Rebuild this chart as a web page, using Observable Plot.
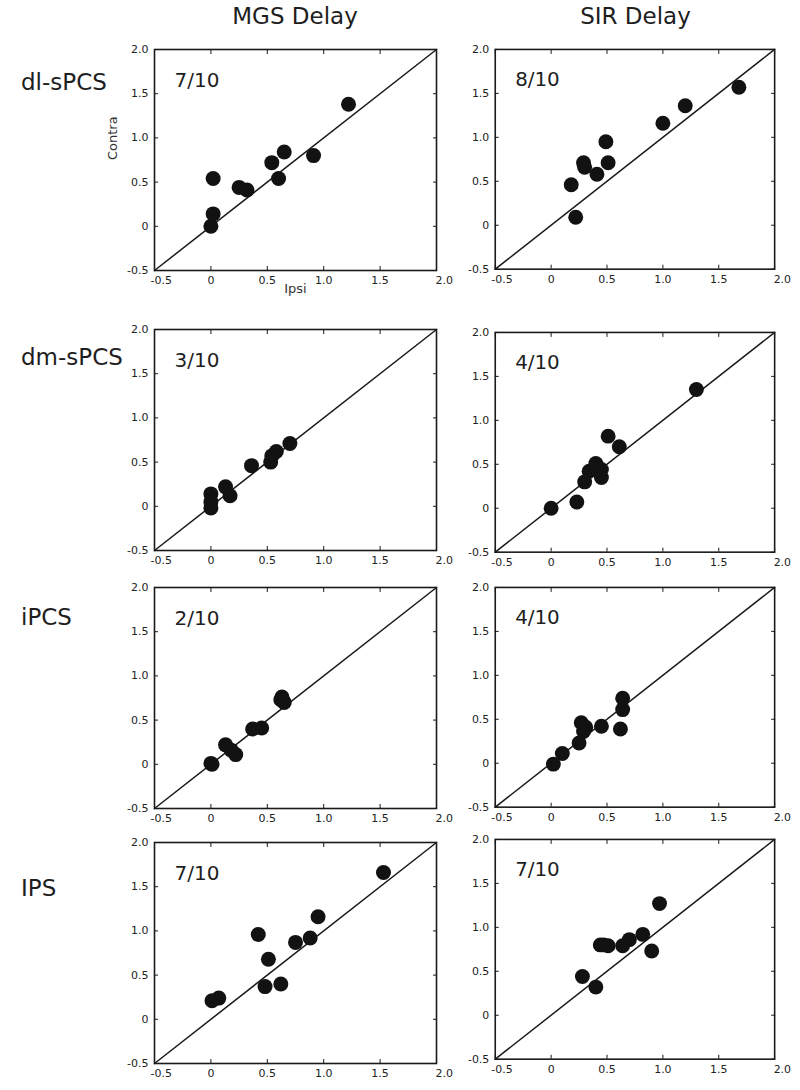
<!DOCTYPE html>
<html><head><meta charset="utf-8">
<script src="https://cdn.jsdelivr.net/npm/d3@7"></script>
<script src="https://cdn.jsdelivr.net/npm/@observablehq/plot@0.6"></script>
<style>
body{margin:0;background:#fff;font-family:"DejaVu Sans",sans-serif;}
#wrap{position:relative;width:800px;height:1090px;overflow:hidden;background:#fff}
.t{position:absolute;color:#1e1e1e;white-space:nowrap;line-height:1;font-family:"DejaVu Sans",sans-serif}
.p{position:absolute}
</style></head><body><div id="wrap"></div>
<script>
const columns = ["MGS Delay", "SIR Delay"];
const regions = ["dl-sPCS", "dm-sPCS", "iPCS", "IPS"];
const counts = [["7/10", "8/10"], ["3/10", "4/10"], ["2/10", "4/10"], ["7/10", "7/10"]];
const ticks = [-0.5, 0, 0.5, 1.0, 1.5, 2.0];
const tickLabels = ["-0.5", "0", "0.5", "1.0", "1.5", "2.0"];
const diagonal = [-0.5, 2.0];
const xAxisTitle = "Ipsi";
const yAxisTitle = "Contra";

// MGS Delay column
const mgsDlIpsi    = [1.22, 0.65, 0.91, 0.54, 0.60, 0.02, 0.25, 0.32, 0.02, 0.00];
const mgsDlContra  = [1.38, 0.84, 0.80, 0.72, 0.54, 0.54, 0.44, 0.41, 0.14, 0.00];
const mgsDmIpsi    = [0.70, 0.58, 0.54, 0.53, 0.36, 0.13, 0.17, 0.00, 0.00, 0.00];
const mgsDmContra  = [0.71, 0.62, 0.57, 0.50, 0.46, 0.22, 0.12, 0.14, 0.05, -0.02];
const mgsIpcsIpsi  = [0.63, 0.65, 0.37, 0.45, 0.13, 0.18, 0.22, 0.00, 0.62, 0.01];
const mgsIpcsContra= [0.76, 0.70, 0.40, 0.41, 0.22, 0.16, 0.11, 0.01, 0.73, 0.00];
const mgsIpsIpsi   = [1.53, 0.95, 0.88, 0.75, 0.42, 0.51, 0.48, 0.62, 0.07, 0.01];
const mgsIpsContra = [1.66, 1.16, 0.92, 0.87, 0.96, 0.68, 0.37, 0.40, 0.24, 0.21];
// SIR Delay column
const sirDlIpsi    = [1.68, 1.20, 1.00, 0.49, 0.29, 0.30, 0.51, 0.41, 0.18, 0.22];
const sirDlContra  = [1.57, 1.36, 1.16, 0.95, 0.71, 0.66, 0.71, 0.58, 0.46, 0.09];
const sirDmIpsi    = [1.30, 0.51, 0.61, 0.40, 0.34, 0.45, 0.45, 0.30, 0.23, 0.00];
const sirDmContra  = [1.35, 0.82, 0.70, 0.51, 0.42, 0.44, 0.35, 0.30, 0.07, 0.00];
const sirIpcsIpsi  = [0.64, 0.64, 0.62, 0.45, 0.27, 0.31, 0.29, 0.25, 0.10, 0.02];
const sirIpcsContra= [0.74, 0.61, 0.39, 0.42, 0.46, 0.41, 0.36, 0.23, 0.11, -0.01];
const sirIpsIpsi   = [0.97, 0.82, 0.70, 0.64, 0.90, 0.51, 0.44, 0.28, 0.40, 0.47];
const sirIpsContra = [1.27, 0.92, 0.86, 0.79, 0.73, 0.79, 0.80, 0.44, 0.32, 0.80];

const panelData = [
  [[mgsDlIpsi, mgsDlContra], [sirDlIpsi, sirDlContra]],
  [[mgsDmIpsi, mgsDmContra], [sirDmIpsi, sirDmContra]],
  [[mgsIpcsIpsi, mgsIpcsContra], [sirIpcsIpsi, sirIpcsContra]],
  [[mgsIpsIpsi, mgsIpsContra], [sirIpsIpsi, sirIpsContra]]
];

// layout (frame positions in page pixels)
const frameLeft = [154, 495];
const frameWidth = [282, 281];
const frameTop = [[49, 49], [329, 332], [587, 587], [842, 839]];
const frameHeight = 221;
const mL = 44, mR = 26, mT = 10, mB = 36;

const wrap = document.getElementById("wrap");
const fmt = d => tickLabels[ticks.indexOf(d)];
const ink = "#1a1a1a";

function addText(txt, left, top, size, extra) {
  const el = document.createElement("div");
  el.className = "t";
  el.textContent = txt;
  el.style.left = left + "px";
  el.style.top = top + "px";
  el.style.fontSize = size + "px";
  if (extra) Object.assign(el.style, extra);
  wrap.appendChild(el);
  return el;
}

// column titles
columns.forEach((c, j) => {
  const el = addText(c, frameLeft[j] + frameWidth[j] / 2, 5, 23, {transform: "translateX(-50%)"});
});
// row labels (baselines approx)
const rowLabelTop = [71, 346, 606, 877];
regions.forEach((r, i) => addText(r, 21, rowLabelTop[i], 23));

for (let i = 0; i < 4; i++) {
  for (let j = 0; j < 2; j++) {
    const [ipsi, contra] = panelData[i][j];
    const pts = ipsi.map((x, k) => ({ipsi: x, contra: contra[k]}));
    const first = i === 0 && j === 0;
    const marks = [
      Plot.line(diagonal, {x: d => d, y: d => d, stroke: ink, strokeWidth: 1.5}),
      Plot.dot(pts, {x: "ipsi", y: "contra", r: 7.5, fill: "#121212", stroke: "none"}),
      // inward tick marks on all four sides
      Plot.axisX(ticks, {anchor: "bottom", tickSize: -4, tickFormat: () => "", stroke: ink, label: null}),
      Plot.axisX(ticks, {anchor: "top", tickSize: -4, tickFormat: () => "", stroke: ink, label: null}),
      Plot.axisY(ticks, {anchor: "left", tickSize: -4, tickFormat: () => "", stroke: ink, label: null}),
      Plot.axisY(ticks, {anchor: "right", tickSize: -4, tickFormat: () => "", stroke: ink, label: null}),
      // tick labels
      Plot.axisX(ticks.slice(1, -1), {anchor: "bottom", tickSize: 0, tickPadding: 6, tickFormat: fmt, fontSize: 11, fill: "#222", label: null}),
      Plot.axisX([ticks[0]], {anchor: "bottom", tickSize: 0, tickPadding: 6, tickFormat: fmt, fontSize: 11, fill: "#222", textAnchor: "start", dx: -4, label: null}),
      Plot.axisX([ticks[ticks.length - 1]], {anchor: "bottom", tickSize: 0, tickPadding: 6, tickFormat: fmt, fontSize: 11, fill: "#222", textAnchor: "start", dx: -1, label: null}),
      Plot.axisY(ticks, {anchor: "left", tickSize: 0, tickPadding: 6, tickFormat: fmt, fontSize: 11, fill: "#222", label: null}),
      Plot.frame({stroke: ink, strokeWidth: 1.6}),
      Plot.text([counts[i][j]], {frameAnchor: "top-left", dx: 20, dy: 37, textAnchor: "start", lineAnchor: "bottom", fontSize: 20, fill: "#1e1e1e"})
    ];
    if (first) {
      marks.push(Plot.text([yAxisTitle], {frameAnchor: "left", dx: -42, rotate: -90, fontSize: 13, fill: "#333"}));
      marks.push(Plot.text([xAxisTitle], {frameAnchor: "bottom", dy: 22, fontSize: 13, fill: "#333"}));
    }
    const chart = Plot.plot({
      width: mL + frameWidth[j] + mR,
      height: mT + frameHeight + mB,
      marginLeft: mL, marginRight: mR, marginTop: mT, marginBottom: mB,
      style: {background: "transparent", overflow: "visible", fontFamily: "DejaVu Sans, sans-serif"},
      x: {domain: [-0.5, 2], nice: false, axis: null},
      y: {domain: [-0.5, 2], nice: false, axis: null},
      marks
    });
    const holder = document.createElement("div");
    holder.className = "p";
    holder.style.left = (frameLeft[j] - mL) + "px";
    holder.style.top = (frameTop[i][j] - mT) + "px";
    holder.appendChild(chart);
    wrap.appendChild(holder);
  }
}
</script></body></html>
